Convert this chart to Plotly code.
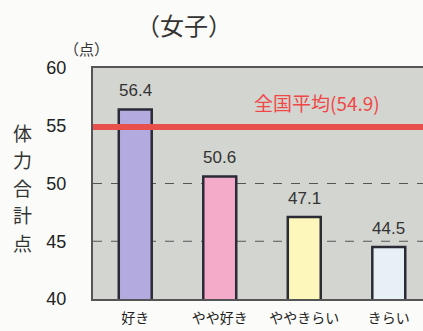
import plotly.graph_objects as go

categories = ["好き", "やや好き", "ややきらい", "きらい"]
values = [56.4, 50.6, 47.1, 44.5]
bar_colors = ["#b3abe0", "#f4abc9", "#fdf7bb", "#e6f0f5"]
national_avg = 54.9
y_ticks = [40, 45, 50, 55, 60]
y_title_chars = ["体", "力", "合", "計", "点"]

FONT = "Noto Sans CJK JP"
NUMFONT = "Liberation Sans"
W, H = 423, 331
ML, MR, MT, MB = 93, 0, 68, 32
pw, ph = W - ML - MR, H - MT - MB


def px(xp):
    return (xp - ML) / pw


def py(yp):
    return (H - MB - yp) / ph


fig = go.Figure()
fig.add_trace(go.Bar(
    x=list(range(len(categories))), y=values,
    width=0.39,
    marker=dict(color=bar_colors, line=dict(color="#2b2b38", width=2.5)),
    hoverinfo="skip",
))

for i, v in enumerate(values):
    fig.add_annotation(x=i, y=v, xref="x", yref="y", yshift=19,
                       xanchor="center", yanchor="middle",
                       text=f"{v:.1f}", showarrow=False,
                       font=dict(family=NUMFONT, size=17, color="#333333"))

for t in [45, 50]:
    fig.add_shape(type="line", xref="paper", x0=0, x1=1, yref="y", y0=t, y1=t,
                  line=dict(color="#555555", width=1, dash="dash"), layer="below")

fig.add_shape(type="line", xref="paper", x0=0, x1=1, yref="y", y0=national_avg, y1=national_avg,
              line=dict(color="#e8504c", width=6), layer="above")

fig.add_annotation(x=px(317), y=py(102), xref="paper", yref="paper",
                   xanchor="center", yanchor="middle",
                   text=f"全国平均({national_avg})", showarrow=False,
                   font=dict(family=FONT, size=19, color="#f04848"))

fig.add_annotation(x=px(184), y=py(25), xref="paper", yref="paper",
                   xanchor="center", yanchor="middle", text="（女子）",
                   showarrow=False, font=dict(family=FONT, size=24, color="#333333"))

fig.add_annotation(x=px(86), y=py(48), xref="paper", yref="paper",
                   xanchor="center", yanchor="middle", text="（点）",
                   showarrow=False, font=dict(family=FONT, size=15, color="#333333"))

for k, ch in enumerate(y_title_chars):
    fig.add_annotation(x=px(22), y=py(132 + k * 27.5), xref="paper", yref="paper",
                       xanchor="center", yanchor="middle", text=ch, showarrow=False,
                       font=dict(family=FONT, size=19, color="#333333"))

fig.update_layout(
    width=W, height=H,
    margin=dict(l=ML, r=MR, t=MT, b=MB),
    paper_bgcolor="#fbfbf9", plot_bgcolor="#d3d5d1",
    showlegend=False,
    xaxis=dict(range=[-0.5, 3.405], tickmode="array", tickvals=list(range(len(categories))),
               ticktext=categories, tickfont=dict(family=FONT, size=14, color="#222222"),
               showline=True, linecolor="#555555", linewidth=2, mirror=True,
               showgrid=False, zeroline=False, ticks="", ticklabelstandoff=5),
    yaxis=dict(range=[40, 60], tickvals=y_ticks,
               tickfont=dict(family=NUMFONT, size=18, color="#222222"),
               showline=True, linecolor="#555555", linewidth=2,
               showgrid=False, zeroline=False, ticks="", ticklabelstandoff=21),
)

fig.write_html("out.html", config={"displayModeBar": False},
               post_script="document.body.style.margin='0';document.body.style.overflow='hidden';")
